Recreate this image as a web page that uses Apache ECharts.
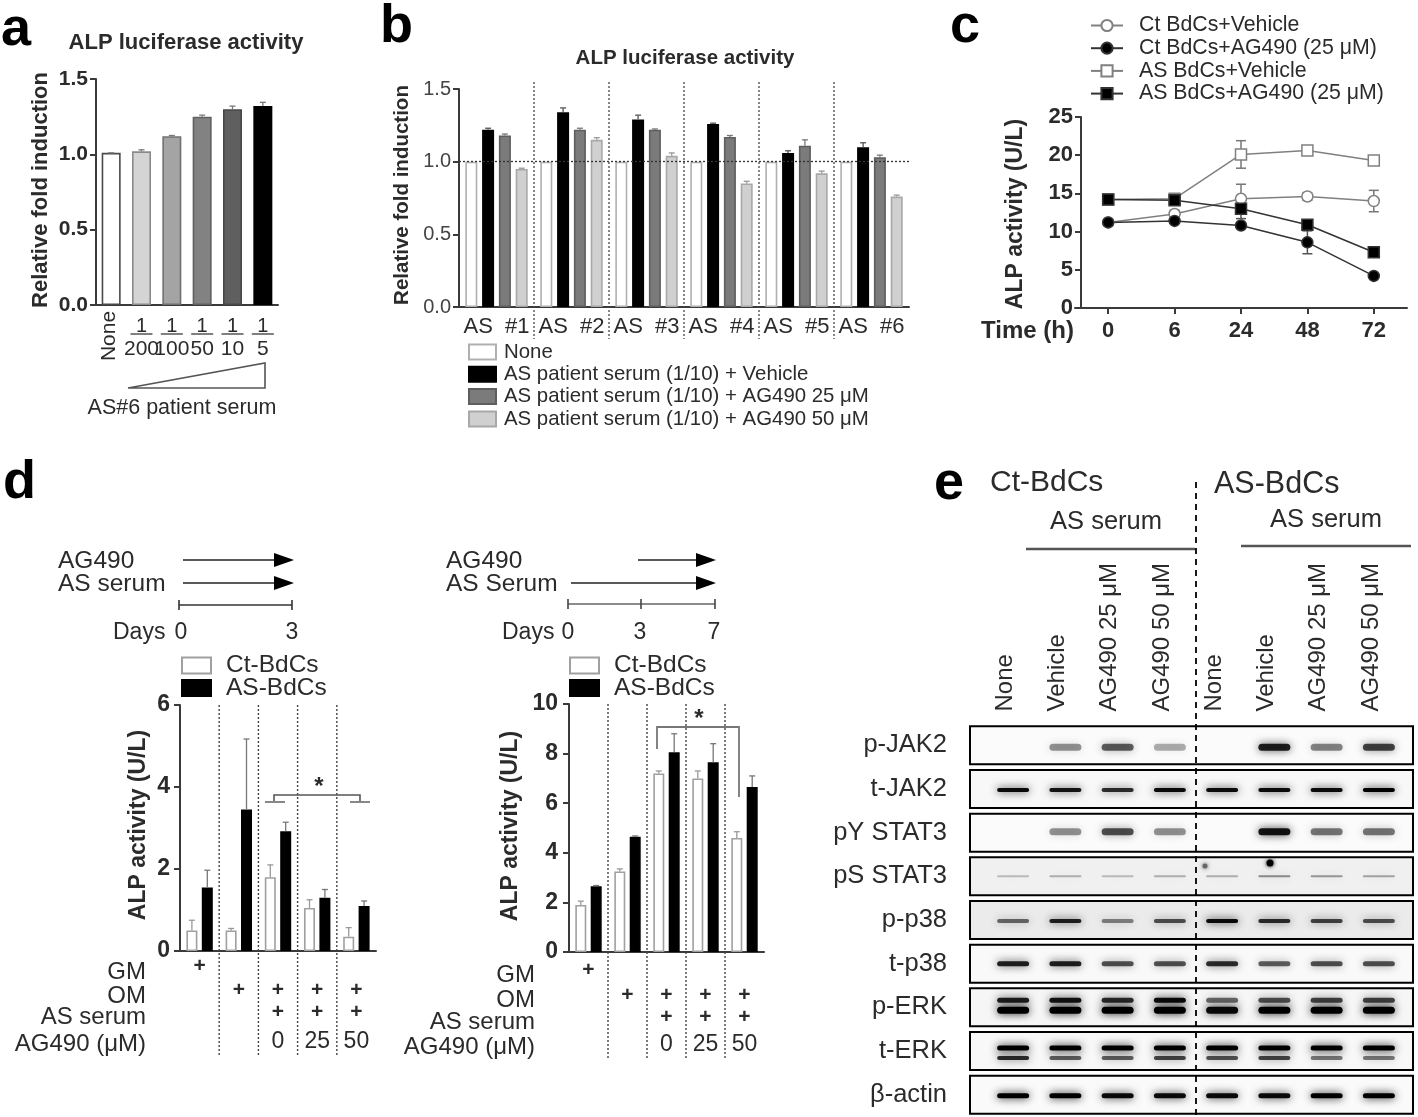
<!DOCTYPE html>
<html><head><meta charset="utf-8">
<style>html,body{margin:0;padding:0;background:#fff}#c{width:1418px;height:1117px;filter:blur(0.6px)}</style>
<script src="https://cdn.jsdelivr.net/npm/echarts@6/dist/echarts.min.js"></script></head>
<body><div id="c"></div>
<script>
// ---- panel a
const aCategories=['None','200','100','50','10','5'];
const aValues=[1.01,1.02,1.12,1.25,1.30,1.32];
const aErrors=[0,0.01,0.005,0.01,0.02,0.025];
// ---- panel b
const bPatients=['#1','#2','#3','#4','#5','#6'];
const bNone=[1,1,1,1,1,1];
const bVehicle=[1.22,1.34,1.29,1.26,1.06,1.10];
const bAG25=[1.18,1.22,1.22,1.17,1.11,1.03];
const bAG50=[0.95,1.15,1.04,0.85,0.92,0.76];
const bVehicleErr=[0.01,0.03,0.03,0.005,0.015,0.03];
const bAG25Err=[0.01,0.01,0.005,0.01,0.04,0.015];
const bAG50Err=[0.005,0.015,0.02,0.015,0.015,0.01];
// ---- panel c
const cTimes=['0','6','24','48','72'];
const cCtVehicle=[11.2,12.3,14.3,14.6,14.0];
const cCtVehicleErr=[0.3,0.5,1.9,0.5,1.4];
const cCtAG=[11.2,11.4,10.8,8.6,4.2];
const cCtAGErr=[0.3,0.3,0.3,1.5,0.2];
const cASVehicle=[14.2,14.3,20.1,20.6,19.3];
const cASVehicleErr=[0.3,0.5,1.8,0.5,0.5];
const cASAG=[14.2,14.1,13.0,10.9,7.3];
const cASAGErr=[0.3,0.4,1.3,0.3,0.3];
// ---- panel d
const dGroups=['GM','OM','AS0','AS25','AS50'];
const dRowGM=['+','','','',''];
const dRowOM=['','+','+','+','+'];
const dRowSerum=['','','+','+','+'];
const dRowAG=['','','0','25','50'];
const d1Ct=[0.5,0.5,1.8,1.05,0.35];
const d1CtErr=[0.25,0.05,0.3,0.2,0.22];
const d1AS=[1.55,3.45,2.92,1.3,1.1];
const d1ASErr=[0.42,1.72,0.22,0.2,0.12];
const d2Ct=[1.9,3.25,7.2,7.0,4.6];
const d2CtErr=[0.15,0.1,0.1,0.3,0.25];
const d2AS=[2.65,4.65,8.05,7.65,6.65];
const d2ASErr=[0.03,0.03,0.75,0.75,0.45];
// ---- panel e (blot band densities)
const eLanes=['None','Vehicle','AG490 25 μM','AG490 50 μM','None','Vehicle','AG490 25 μM','AG490 50 μM'];
const eRows=['p-JAK2','t-JAK2','pY STAT3','pS STAT3','p-p38','t-p38','p-ERK','t-ERK','β-actin'];
const ePJak=[0,.4,.6,.3,0,.85,.45,.7];
const eTJak=[.95,.9,.8,.95,.95,.95,.95,1];
const ePY=[0,.4,.65,.4,0,.9,.5,.5];
const ePS=[.22,.27,.22,.27,.27,.42,.37,.32];
const ePp38=[.55,.85,.45,.65,.95,.8,.7,.65];
const eTp38=[.85,.85,.65,.65,.8,.6,.65,.65];
const ePErkUp=[.85,.9,.8,.95,.55,.65,.7,.7];
const ePErkLo=[1,1,1,1,.95,1,1,1];
const eTErkUp=[1,1,1,1,1,1,1,1];
const eTErkLo=[.8,.6,.6,.7,.65,.7,.5,.5];
const eActin=[1,1,.95,.95,.95,.95,1,1];

const F='"Liberation Sans",Arial,sans-serif', INK='#2b2b2b';
const chart=echarts.init(document.getElementById('c'),null,{renderer:'canvas'});

// ---------- helpers
function errS(g,vals,errs,off,col,lw){
  return {type:'custom',xAxisIndex:g,yAxisIndex:g,silent:true,z:4,encode:{x:0,y:1},
    data:vals.map((v,i)=>[i,v,errs[i]]),
    renderItem(p,api){
      const i=api.value(0),v=api.value(1),e=api.value(2);
      const t=api.coord([i,v+e]),b=api.coord([i,v]);const x=t[0]+off;
      const st={stroke:col,lineWidth:lw||1.3};
      return {type:'group',children:[
        {type:'line',shape:{x1:x,y1:b[1],x2:x,y2:t[1]},style:st},
        {type:'line',shape:{x1:x-3,y1:t[1],x2:x+3,y2:t[1]},style:st}]};
    }};
}
function lineErrS(g,vals,errs,col){
  return {type:'custom',xAxisIndex:g,yAxisIndex:g,silent:true,z:1,encode:{x:0,y:1},
    data:vals.map((v,i)=>[i,v,errs[i]]),
    renderItem(p,api){
      const i=api.value(0),v=api.value(1),e=api.value(2);
      const t=api.coord([i,v+e]),b=api.coord([i,v-e]);const x=t[0];
      const st={stroke:col,lineWidth:1.5};
      return {type:'group',children:[
        {type:'line',shape:{x1:x,y1:b[1],x2:x,y2:t[1]},style:st},
        {type:'line',shape:{x1:x-5,y1:t[1],x2:x+5,y2:t[1]},style:st},
        {type:'line',shape:{x1:x-5,y1:b[1],x2:x+5,y2:b[1]},style:st}]};
    }};
}
function dividers(g,n,extTop,extBot,col,dash,lw){
  return {type:'custom',xAxisIndex:g,yAxisIndex:g,silent:true,z:5,encode:{x:0},
    data:Array.from({length:n-1},(_,i)=>[i+1]),
    renderItem(p,api){
      const i=api.value(0);const cs=p.coordSys;
      const x=api.coord([i,0])[0]-api.size([1,0])[0]/2;
      return {type:'line',shape:{x1:x,y1:cs.y-extTop,x2:x,y2:cs.y+cs.height+extBot},
        style:{stroke:col,lineDash:dash,lineWidth:lw}};
    }};
}
function bandText(g,arr,dy,font){
  return {type:'custom',xAxisIndex:g,yAxisIndex:g,silent:true,z:6,encode:{x:0},
    data:arr.map((s,i)=>[i]),
    renderItem(p,api){
      const i=api.value(0);const c=api.coord([i,0]);
      if(!arr[i])return null;
      return {type:'text',style:{text:arr[i],x:c[0],y:c[1]+dy,font:font+' '+F,fill:INK,align:'center',verticalAlign:'middle'}};
    }};
}
function yAxisFor(g,max,interval,fmt,size,bold,col,margin,offset){
  return {type:'value',gridIndex:g,min:0,max:max,interval:interval,splitLine:{show:false},offset:offset||0,
    axisLine:{show:true,lineStyle:{color:'#3a3a3a',width:2}},
    axisTick:{show:true,length:6,lineStyle:{color:'#3a3a3a',width:2}},
    axisLabel:{fontFamily:F,fontSize:size,fontWeight:bold?'bold':'normal',color:col||INK,margin:margin||8,formatter:fmt}};
}
function xAxisFor(g,cats,labelOpt){
  return {type:'category',gridIndex:g,data:cats,
    axisLine:{show:true,onZero:false,lineStyle:{color:'#3a3a3a',width:2}},
    axisTick:{show:false},axisLabel:labelOpt||{show:false}};
}
// graphic helpers
const G=[];
function T(text,x,y,size,o){o=o||{};
  G.push({type:'text',x:x,y:y,rotation:o.rot||0,silent:true,z:10,style:{text:text,font:(o.bold?'bold ':'')+size+'px '+F,fill:o.fill||INK,align:o.align||'left',verticalAlign:'middle'}});
}
function L(x1,y1,x2,y2,col,w){G.push({type:'line',silent:true,z:10,shape:{x1,y1,x2,y2},style:{stroke:col,lineWidth:w}});}
function Arrow(x1,x2,y){L(x1,y,x2-12,y,'#222',1.6);
  G.push({type:'polygon',silent:true,z:10,shape:{points:[[x2-20,y-7],[x2,y],[x2-20,y+7]]},style:{fill:'#000'}});}

// letters
T('a',1,30,54,{bold:true,fill:'#000'});T('b',380,27,54,{bold:true,fill:'#000'});
T('c',950,27,54,{bold:true,fill:'#000'});T('d',3,483,54,{bold:true,fill:'#000'});
T('e',934,484,54,{bold:true,fill:'#000'});
// titles + y labels
T('ALP luciferase activity',186,43,22,{bold:true,align:'center'});
T('ALP luciferase activity',685,58,20.5,{bold:true,align:'center'});
const R=Math.PI/2;
T('Relative fold induction',41,190,22,{bold:true,rot:R,align:'center'});
T('Relative fold induction',402,195,20.5,{bold:true,rot:R,align:'center'});
T('ALP activity (U/L)',1016,214,23,{bold:true,rot:R,align:'center'});
T('ALP activity (U/L)',139,825,23,{bold:true,rot:R,align:'center'});
T('ALP activity (U/L)',511,826,23,{bold:true,rot:R,align:'center'});
T('Time (h)',1074,331,24,{bold:true,align:'right'});
// a triangle and caption
G.push({type:'polygon',silent:true,z:10,shape:{points:[[128,388],[265,363],[265,388]]},style:{fill:'none',stroke:'#555',lineWidth:1.6}});
T('AS#6 patient serum',182,408,21.5,{align:'center'});
// d timelines
T('AG490',58,561,24.5);T('AS serum',58,584,24.5);Arrow(183,294,560);Arrow(183,294,583);
L(179,605,292,605,'#333',1.6);L(179,600,179,610,'#333',1.6);L(292,600,292,610,'#333',1.6);
T('Days',113,633,23);T('0',181,633,23,{align:'center'});T('3',292,633,23,{align:'center'});
T('AG490',446,561,24.5);T('AS Serum',446,584,24.5);Arrow(638,716,560);Arrow(571,716,583);
L(568,604,715,604,'#666',1.6);L(568,599,568,609,'#444',1.6);L(641,599,641,609,'#444',1.6);L(715,599,715,609,'#444',1.6);
T('Days',502,633,23);T('0',568,633,23,{align:'center'});T('3',640,633,23,{align:'center'});T('7',714,633,23,{align:'center'});
// d rows
[['GM',972],['OM',996],['AS serum',1017],['AG490 (μM)',1044]].forEach(r=>T(r[0],146,r[1],24,{align:'right'}));
[['GM',975],['OM',1000],['AS serum',1022],['AG490 (μM)',1047]].forEach(r=>T(r[0],535,r[1],24,{align:'right'}));
// d brackets
T('*',319,787,24,{bold:true,align:'center'});
G.push({type:'polyline',silent:true,z:10,shape:{points:[[274,802],[274,795],[360,795],[360,802]]},style:{stroke:'#555',lineWidth:1.6,fill:'none'}});
L(265,802,285,802,'#888',2);L(350,802,370,802,'#888',2);
T('*',699,719,24,{bold:true,align:'center'});
G.push({type:'polyline',silent:true,z:10,shape:{points:[[657,749],[657,727],[739,727],[739,797]]},style:{stroke:'#777',lineWidth:1.8,fill:'none'}});
// e headers
T('Ct-BdCs',990,483,30);T('AS-BdCs',1214,485,30.5);
T('AS serum',1106,522,25.5,{align:'center'});T('AS serum',1326,520,25.5,{align:'center'});
L(1026,549,1195,549,'#555',2.5);L(1241,546,1411,546,'#555',2.5);
// pS STAT3 specks
G.push({type:'circle',silent:true,z:8,shape:{cx:1270,cy:863,r:3.5},style:{fill:'#000',shadowBlur:4,shadowColor:'#000'}});
G.push({type:'circle',silent:true,z:8,shape:{cx:1205,cy:866,r:2.5},style:{fill:'#666',shadowBlur:4,shadowColor:'#555'}});

// ---- panel a bars
const aColors=['#ffffff','#d4d4d4','#a4a4a4','#828282','#5f5f5f','#000000'];
const aBorders=['#4a4a4a','#8a8a8a','#707070','#606060','#484848','#000000'];
// ---- panel e band table: row index, values, y-offset, thickness
const bandTable=[[0,ePJak,2,7],[1,eTJak,1,4],[2,ePY,-1,7],[3,ePS,0,2],[4,ePp38,1,4],[5,eTp38,0,5],[6,ePErkUp,-7,5],[6,ePErkLo,3,7],[7,eTErkUp,-3,5],[7,eTErkLo,7,4],[8,eActin,1,5]];
const bandData=[];bandTable.forEach(t=>t[1].forEach((v,i)=>{if(v>0)bandData.push([i,t[0],v,t[2],t[3]]);}));
const eBg=['#fbfbfb','#f8f8f8','#fbfbfb','#f0f0f0','#ebebeb','#f9f9f9','#f6f6f6','#f8f8f8','#fafafa'];

const barOpt=(g,name,data,col,bc,w)=>({type:'bar',name:name,xAxisIndex:g,yAxisIndex:g,data:data,barWidth:w,barGap:'40%',z:3,
  itemStyle:{color:col,borderColor:bc,borderWidth:1.6},silent:true});
const lineOpt=(name,data,symbol,size,fill,col)=>({type:'line',name:name,xAxisIndex:2,yAxisIndex:2,data:data,symbol:symbol,symbolSize:size,z:3,silent:true,
  showSymbol:true,lineStyle:{color:col,width:1.5},itemStyle:{color:fill,borderColor:col,borderWidth:1.5}});

const series=[
  // a
  {type:'bar',name:'a',xAxisIndex:0,yAxisIndex:0,barWidth:19,z:3,silent:true,
   data:aValues.map((v,i)=>({value:v,itemStyle:{color:aColors[i],borderColor:aBorders[i],borderWidth:1.6}}))},
  errS(0,aValues,aErrors,0,'#777',1.3),
  {type:'custom',xAxisIndex:0,yAxisIndex:0,silent:true,z:6,encode:{x:0},data:aCategories.map((s,i)=>[i]),
   renderItem(p,api){
     const i=api.value(0);const c=api.coord([i,0]);
     if(aCategories[i]==='None')
       return {type:'text',x:c[0]-2,y:c[1]+31,rotation:Math.PI/2,style:{text:'None',font:'21px '+F,fill:INK,align:'center',verticalAlign:'middle'}};
     return {type:'group',children:[
       {type:'text',style:{text:'1',x:c[0],y:c[1]+21,font:'20px '+F,fill:INK,align:'center',verticalAlign:'middle'}},
       {type:'line',shape:{x1:c[0]-11,y1:c[1]+29,x2:c[0]+11,y2:c[1]+29},style:{stroke:'#555',lineWidth:1.5}},
       {type:'text',style:{text:aCategories[i],x:c[0],y:c[1]+44,font:'21px '+F,fill:INK,align:'center',verticalAlign:'middle'}}]};
   }},
  // b
  Object.assign(barOpt(1,'None',bNone,'#ffffff','#b0b0b0',12),{markLine:{silent:true,symbol:'none',z:6,label:{show:false},lineStyle:{color:'#333',type:[2,2],width:1.3},data:[{yAxis:1}]}}),
  barOpt(1,'AS patient serum (1/10) + Vehicle',bVehicle,'#000000','#000000',12),
  barOpt(1,'AS patient serum (1/10) + AG490 25 μM',bAG25,'#7b7b7b','#5e5e5e',12),
  barOpt(1,'AS patient serum (1/10) + AG490 50 μM',bAG50,'#d0d0d0','#a8a8a8',12),
  errS(1,bVehicle,bVehicleErr,-8.4,'#555'),errS(1,bAG25,bAG25Err,8.4,'#777'),errS(1,bAG50,bAG50Err,25.2,'#999'),
  dividers(1,6,7,32,'#444',[2,2],1.3),
  // c
  lineErrS(2,cCtVehicle,cCtVehicleErr,'#777'),lineErrS(2,cCtAG,cCtAGErr,'#555'),lineErrS(2,cASVehicle,cASVehicleErr,'#777'),lineErrS(2,cASAG,cASAGErr,'#555'),
  lineOpt('Ct BdCs+Vehicle',cCtVehicle,'circle',11,'#ffffff','#808080'),
  lineOpt('Ct BdCs+AG490 (25 μM)',cCtAG,'circle',11,'#000000','#333333'),
  lineOpt('AS BdCs+Vehicle',cASVehicle,'rect',11,'#ffffff','#808080'),
  lineOpt('AS BdCs+AG490 (25 μM)',cASAG,'rect',11,'#000000','#333333'),
  // d1
  barOpt(3,'Ct-BdCs',d1Ct,'#ffffff','#a0a0a0',11),barOpt(3,'AS-BdCs',d1AS,'#000000','#000000',11),
  errS(3,d1Ct,d1CtErr,-7.7,'#999'),errS(3,d1AS,d1ASErr,7.7,'#777'),
  dividers(3,5,0,106,'#444',[2,2],1.4),
  bandText(3,dRowGM,15,'bold 21px'),bandText(3,dRowOM,39,'bold 21px'),bandText(3,dRowSerum,61,'bold 21px'),bandText(3,dRowAG,91,'23px'),
  // d2
  barOpt(4,'Ct-BdCs ',d2Ct,'#ffffff','#a0a0a0',11),barOpt(4,'AS-BdCs ',d2AS,'#000000','#000000',11),
  errS(4,d2Ct,d2CtErr,-7.7,'#999'),errS(4,d2AS,d2ASErr,7.7,'#777'),
  dividers(4,5,0,106,'#444',[2,2],1.4),
  bandText(4,dRowGM,18,'bold 21px'),bandText(4,dRowOM,43,'bold 21px'),bandText(4,dRowSerum,65,'bold 21px'),bandText(4,dRowAG,93,'23px'),
  // e
  {type:'custom',xAxisIndex:5,yAxisIndex:5,silent:true,z:1,encode:{y:0},data:eRows.map((s,i)=>[i]),
   renderItem(p,api){const i=api.value(0);const cs=p.coordSys;const c=api.coord([0,i]);
     return {type:'rect',shape:{x:cs.x-17,y:c[1]-19,width:cs.width+25,height:38},style:{fill:eBg[i]}};}},
  {type:'custom',xAxisIndex:5,yAxisIndex:5,silent:true,z:2,encode:{x:0,y:1},data:bandData,
   renderItem(p,api){const c=api.coord([api.value(0),api.value(1)]);const v=api.value(2),dy=api.value(3),h=api.value(4);
     return {type:'rect',shape:{x:c[0]-16,y:c[1]+dy-h/2,width:32,height:h,r:h/2},
       style:{fill:'rgba(0,0,0,'+v+')',shadowBlur:8,shadowColor:'rgba(0,0,0,'+(v*0.9)+')'}};}},
  {type:'custom',xAxisIndex:5,yAxisIndex:5,silent:true,z:3,encode:{y:0},data:eRows.map((s,i)=>[i]),
   renderItem(p,api){const i=api.value(0);const cs=p.coordSys;const c=api.coord([0,i]);
     return {type:'rect',shape:{x:cs.x-17,y:c[1]-19,width:cs.width+25,height:38},style:{fill:'none',stroke:'#000',lineWidth:2}};}},
  {type:'custom',xAxisIndex:5,yAxisIndex:5,silent:true,z:4,encode:{x:0},data:[[4]],
   renderItem(p,api){const cs=p.coordSys;const x=api.coord([api.value(0),0])[0]-api.size([1,0])[0]/2;
     return {type:'line',shape:{x1:x,y1:482,x2:x,y2:cs.y+cs.height},style:{stroke:'#000',lineWidth:1.8,lineDash:[6,5]}};}},
  {type:'custom',xAxisIndex:5,yAxisIndex:5,silent:true,z:6,encode:{x:0},data:eLanes.map((s,i)=>[i]),
   renderItem(p,api){const i=api.value(0);const cs=p.coordSys;const c=api.coord([i,0]);
     return {type:'text',x:c[0]-8,y:cs.y-12,rotation:Math.PI/2,style:{text:eLanes[i],font:'24px '+F,fill:INK,align:'left',verticalAlign:'middle'}};}}
];

chart.setOption({
  animation:false,backgroundColor:'#fff',
  grid:[
    {left:96,top:79,width:182,height:226},
    {left:459,top:89,width:450,height:218},
    {left:1075,top:117,width:332,height:191},
    {left:180,top:705,width:196,height:246},
    {left:569,top:704,width:195,height:248},
    {left:987,top:723.5,width:418,height:393}
  ],
  xAxis:[
    xAxisFor(0,aCategories),
    xAxisFor(1,bPatients,{show:true,interval:0,fontFamily:F,fontSize:22,color:INK,margin:9,formatter:v=>'AS  '+v}),
    Object.assign(xAxisFor(2,cTimes,{show:true,interval:0,fontFamily:F,fontSize:22,fontWeight:'bold',color:INK,margin:12}),{axisTick:{show:true,alignWithLabel:true,length:6,lineStyle:{color:'#3a3a3a',width:2}}}),
    xAxisFor(3,dGroups),xAxisFor(4,dGroups),
    {type:'category',gridIndex:5,position:'top',data:eLanes,axisLine:{show:false},axisTick:{show:false},axisLabel:{show:false}}
  ],
  yAxis:[
    yAxisFor(0,1.5,0.5,v=>v.toFixed(1),21,true,null,8),
    yAxisFor(1,1.5,0.5,v=>v.toFixed(1),20,false,'#444',8),
    yAxisFor(2,25,5,null,22,true,null,8,-6),
    yAxisFor(3,6,2,null,23,true,null,10),
    yAxisFor(4,10,2,null,23,true,null,11),
    {type:'category',gridIndex:5,inverse:true,data:eRows,axisLine:{show:false},axisTick:{show:false},
     axisLabel:{fontFamily:F,fontSize:25.5,color:INK,margin:40}}
  ],
  legend:[
    {left:463,top:337,orient:'vertical',selectedMode:false,icon:'rect',itemWidth:27,itemHeight:15,itemGap:2.3,textStyle:{fontFamily:F,fontSize:20.4,lineHeight:14,color:INK,padding:[0,0,0,3]},
     data:['None','AS patient serum (1/10) + Vehicle','AS patient serum (1/10) + AG490 25 μM','AS patient serum (1/10) + AG490 50 μM']},
    {left:1085,top:10,orient:'vertical',selectedMode:false,itemWidth:32,itemHeight:14,itemGap:1.7,textStyle:{fontFamily:F,fontSize:21.3,lineHeight:14,color:INK,padding:[0,0,0,11]},
     data:['Ct BdCs+Vehicle','Ct BdCs+AG490 (25 μM)','AS BdCs+Vehicle','AS BdCs+AG490 (25 μM)']},
    {left:176,top:648,orient:'vertical',selectedMode:false,icon:'rect',itemWidth:29,itemHeight:16,itemGap:-2.5,textStyle:{fontFamily:F,fontSize:24.5,lineHeight:16,color:INK,padding:[0,0,0,10]},data:['Ct-BdCs','AS-BdCs']},
    {left:564,top:648,orient:'vertical',selectedMode:false,icon:'rect',itemWidth:29,itemHeight:16,itemGap:-2.5,textStyle:{fontFamily:F,fontSize:24.5,lineHeight:16,color:INK,padding:[0,0,0,10]},data:['Ct-BdCs ','AS-BdCs ']}
  ],
  graphic:{elements:G},
  series:series
});
</script></body></html>
